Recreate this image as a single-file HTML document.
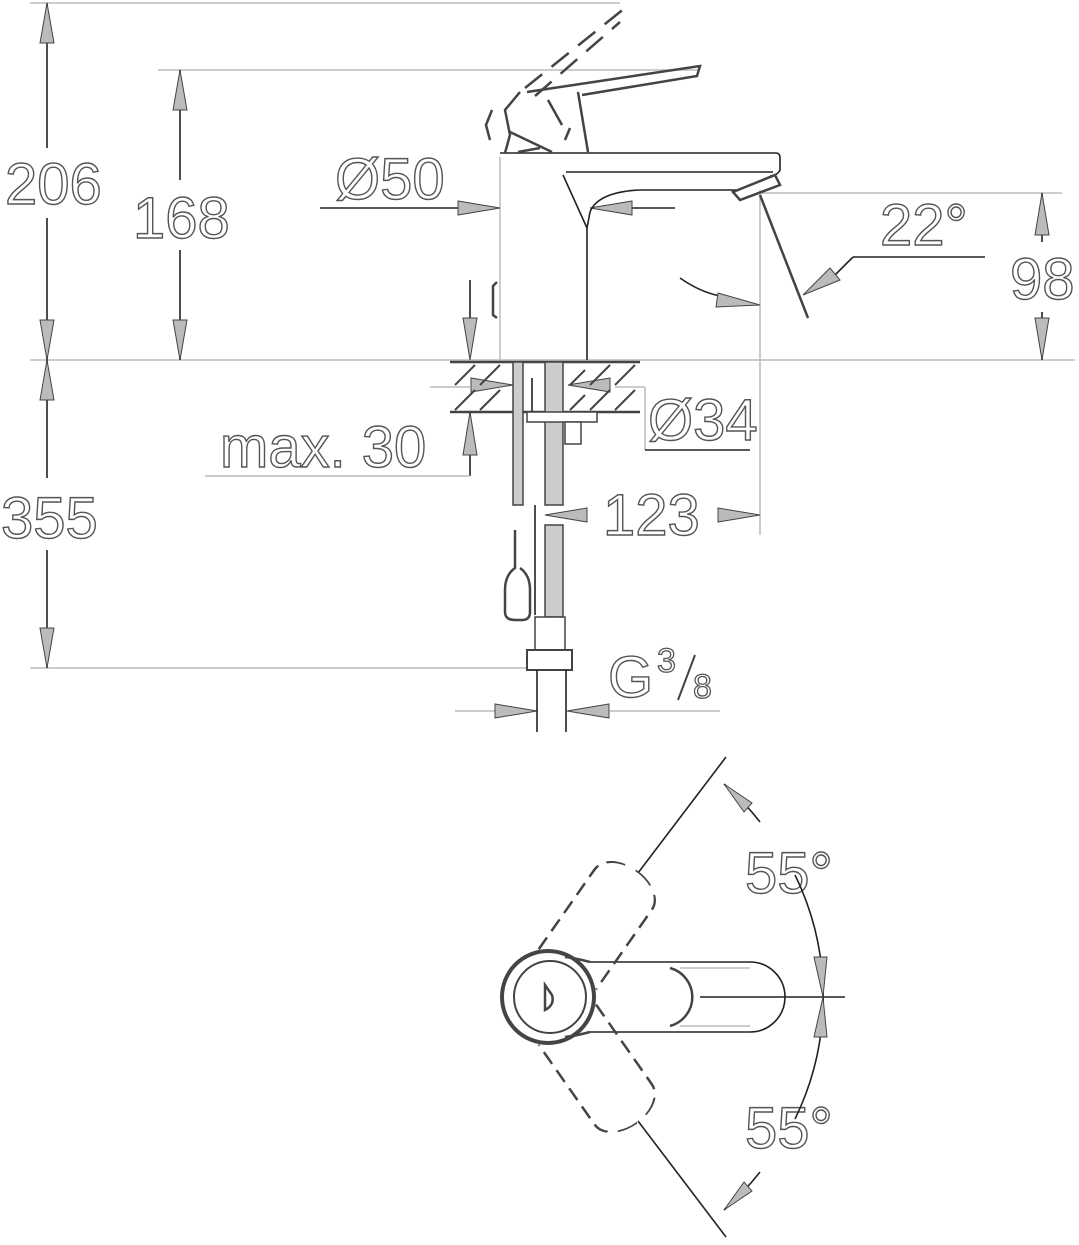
<!DOCTYPE html>
<html><head><meta charset="utf-8">
<style>
html,body{margin:0;padding:0;background:#fff;}
svg{display:block;}
.t{font-family:"Liberation Sans",sans-serif;font-size:58px;fill:#fff;stroke:#555;stroke-width:1.4;}
.ts{font-family:"Liberation Sans",sans-serif;font-size:34px;fill:#fff;stroke:#555;stroke-width:1.3;}
.l{stroke:#bbb;stroke-width:1.5;fill:none;}
.k{stroke:#222;stroke-width:1.6;fill:none;}
.g{stroke:#444;stroke-width:2.5;fill:none;}
.a{fill:#bbb;stroke:#444;stroke-width:1;}
.d{stroke:#444;stroke-width:2.5;fill:none;stroke-dasharray:22 12;}
.h{stroke:#444;stroke-width:2;}
</style></head>
<body>
<svg width="1079" height="1245" viewBox="0 0 1079 1245" xmlns="http://www.w3.org/2000/svg">
<line class="l" x1="30" y1="3" x2="620" y2="3"/>
<line class="l" x1="158" y1="70" x2="700" y2="70"/>
<line class="l" x1="30" y1="360" x2="1075" y2="360"/>
<line class="l" x1="30" y1="668" x2="530" y2="668"/>
<line class="l" x1="760" y1="193" x2="1062" y2="193"/>
<line class="l" x1="760" y1="190" x2="760" y2="535"/>
<line class="l" x1="500" y1="157" x2="500" y2="360"/>
<line class="k" x1="47" y1="3" x2="47" y2="148"/>
<line class="k" x1="47" y1="218" x2="47" y2="360"/>
<line class="k" x1="47" y1="360" x2="47" y2="478"/>
<line class="k" x1="47" y1="550" x2="47" y2="668"/>
<line class="k" x1="180" y1="70" x2="180" y2="180"/>
<line class="k" x1="180" y1="250" x2="180" y2="360"/>
<line class="k" x1="1042" y1="193" x2="1042" y2="242"/>
<line class="k" x1="1042" y1="312" x2="1042" y2="360"/>
<line class="k" x1="320" y1="208" x2="460" y2="208"/>
<line class="k" x1="632" y1="208" x2="675" y2="208"/>
<line class="k" x1="470" y1="280" x2="470" y2="320"/>
<line class="k" x1="470" y1="412" x2="470" y2="476"/>
<line class="l" x1="205" y1="476" x2="470" y2="476"/>
<line class="k" x1="853" y1="257" x2="985" y2="257"/>
<line class="k" x1="853" y1="257" x2="835" y2="275"/>
<line class="l" x1="430" y1="387" x2="470" y2="387"/>
<line class="l" x1="615" y1="387" x2="645" y2="387"/>
<line class="l" x1="645" y1="387" x2="645" y2="450"/>
<line class="k" x1="645" y1="450" x2="750" y2="450"/>
<line class="l" x1="455" y1="711" x2="495" y2="711"/>
<line class="l" x1="610" y1="711" x2="720" y2="711"/>
<polygon class="a" points="47,3 40,43 54,43"/>
<polygon class="a" points="47,360 40,320 54,320"/>
<polygon class="a" points="47,360 40,400 54,400"/>
<polygon class="a" points="47,668 40,628 54,628"/>
<polygon class="a" points="180,70 173,110 187,110"/>
<polygon class="a" points="180,360 173,320 187,320"/>
<polygon class="a" points="1042,193 1035,235 1049,235"/>
<polygon class="a" points="1042,360 1035,318 1049,318"/>
<polygon class="a" points="500,208 458,201 458,215"/>
<polygon class="a" points="590,208 632,201 632,215"/>
<polygon class="a" points="470,360 463,318 477,318"/>
<polygon class="a" points="470,412 463,455 477,455"/>
<polygon class="a" points="513,385 471,378 471,392"/>
<polygon class="a" points="568,385 610,378 610,392"/>
<polygon class="a" points="545,515 587,508 587,522"/>
<polygon class="a" points="760,515 718,508 718,522"/>
<polygon class="a" points="537,711 495,704 495,718"/>
<polygon class="a" points="567,711 609,704 609,718"/>
<polygon class="a" points="803,295 830,268 840,280"/>
<path class="k" d="M680,278 Q700,292 720,296"/>
<polygon class="a" points="760,305 718,293 716,307"/>
<text class="t" x="5" y="204">206</text>
<text class="t" x="133" y="238">168</text>
<text class="t" x="335" y="199">Ø50</text>
<text class="t" x="1" y="538">355</text>
<text class="t" x="220" y="467">max. 30</text>
<text class="t" x="648" y="440">Ø34</text>
<text class="t" x="603" y="535">123</text>
<text class="t" x="880" y="245">22°</text>
<text class="t" x="1010" y="299">98</text>
<text class="t" x="608" y="697">G</text>
<text class="ts" x="657" y="672">3</text>
<line class="g" x1="678" y1="700" x2="695" y2="655" style="stroke-width:2"/>
<text class="ts" x="693" y="698">8</text>
<text class="t" x="745" y="893">55°</text>
<text class="t" x="745" y="1148">55°</text>
<path class="k" d="M500,153 L776,153 Q780,153 780,158 L780,170 Q778,175 770,176"/>
<line class="k" x1="566" y1="172" x2="773" y2="172"/>
<path class="k" d="M590,212 Q598,192 640,190 L737,190"/>
<line class="k" x1="587" y1="228" x2="587" y2="360"/>
<line class="k" x1="563" y1="175" x2="587" y2="228"/>
<line class="k" x1="590" y1="212" x2="587" y2="228"/>
<path class="g" d="M733,192 L775,175 L780,185 L740,200 Z"/>
<line class="g" x1="760" y1="195" x2="808" y2="318"/>
<path class="g" d="M497,282 L493,286 L493,315 L497,318"/>
<path class="g" d="M527,92 L700,66 L697,76 L582,95"/>
<path class="g" d="M505,153 L510,135 L505,110 L520,92"/>
<path class="g" d="M578,92 L588,152"/>
<path class="g" d="M510,132 L552,152 M518,152 L540,148"/>
<path class="g" d="M548,100 L562,125 M570,128 L565,140"/>
<path class="g" d="M490,140 L486,125 L492,110"/>
<path class="d" d="M525,88 L625,8 M535,96 L620,22"/>
<line class="g" x1="450" y1="362" x2="640" y2="362"/>
<line class="g" x1="450" y1="412" x2="640" y2="412"/>
<g class="h">
<line x1="455" y1="385" x2="475" y2="365"/><line x1="480" y1="385" x2="500" y2="365"/>
<line x1="455" y1="410" x2="475" y2="390"/><line x1="480" y1="410" x2="500" y2="390"/>
<line x1="590" y1="385" x2="610" y2="365"/><line x1="615" y1="385" x2="635" y2="365"/>
<line x1="590" y1="410" x2="610" y2="390"/><line x1="615" y1="410" x2="635" y2="390"/>
<line x1="570" y1="385" x2="585" y2="370"/><line x1="570" y1="410" x2="585" y2="395"/>
</g>
<rect x="513" y="362" width="10" height="143" fill="#ccc" stroke="#444" stroke-width="1.5"/>
<rect x="545" y="362" width="18" height="143" fill="#ccc" stroke="#444" stroke-width="1.5"/>
<line class="k" x1="532" y1="378" x2="532" y2="412"/>
<rect x="527" y="412" width="70" height="10" fill="#fff" stroke="#444" stroke-width="1.5"/>
<rect x="565" y="422" width="16" height="22" fill="#fff" stroke="#444" stroke-width="1.5"/>
<line class="k" x1="535" y1="505" x2="535" y2="615"/>
<rect x="545" y="525" width="18" height="92" fill="#ccc" stroke="#444" stroke-width="1.5"/>
<path class="g" d="M515,530 L515,568 Q505,575 505,590 L505,612 Q505,620 515,620 L522,620 Q530,620 530,612 L530,590 Q530,575 520,568"/>
<rect x="535" y="617" width="30" height="33" fill="#fff" stroke="#444" stroke-width="1.5"/>
<rect x="527" y="650" width="45" height="20" fill="#fff" stroke="#444" stroke-width="2"/>
<line class="k" x1="537" y1="670" x2="537" y2="732"/>
<line class="k" x1="566" y1="670" x2="566" y2="732"/>
<!-- bottom view -->
<line class="k" x1="638" y1="873" x2="726" y2="757"/>
<line class="k" x1="638" y1="1121" x2="726" y2="1237"/>
<line class="k" x1="700" y1="997" x2="845" y2="997"/>
<path class="k" d="M724,784 A278,278 0 0 1 760,822"/>
<path class="k" d="M795,875 A278,278 0 0 1 795,1119"/>
<path class="k" d="M760,1172 A278,278 0 0 1 724,1210"/>
<polygon class="a" points="724,784 752,803 744,812"/>
<polygon class="a" points="823,997 814,957 827,957"/>
<polygon class="a" points="823,997 814,1037 827,1037"/>
<polygon class="a" points="724,1210 752,1191 744,1182"/>
<path class="k" d="M590,962 L750,962 A35,35 0 0 1 750,1032 L590,1032"/>
<path class="g" d="M670,968 A30,30 0 0 1 670,1026"/>
<line class="l" x1="680" y1="968" x2="750" y2="968"/>
<line class="l" x1="680" y1="1026" x2="750" y2="1026"/>
<circle cx="548" cy="997" r="46" fill="none" stroke="#444" stroke-width="4"/>
<circle cx="550" cy="997" r="36" fill="none" stroke="#444" stroke-width="2"/>
<path class="g" d="M545,985 L545,1010 Q555,1005 552,995 Z"/>
<path class="g" d="M590,962 Q575,958 565,957 M590,1032 Q575,1036 565,1037"/>
<g transform="rotate(-55 548 997) translate(548 0) scale(0.65 1) translate(-548 0)"><path class="d" d="M600,962 L750,962 A35,35 0 0 1 750,1032 L600,1032"/></g>
<g transform="rotate(55 548 997) translate(548 0) scale(0.65 1) translate(-548 0)"><path class="d" d="M600,962 L750,962 A35,35 0 0 1 750,1032 L600,1032"/></g>
</svg>
</body></html>
